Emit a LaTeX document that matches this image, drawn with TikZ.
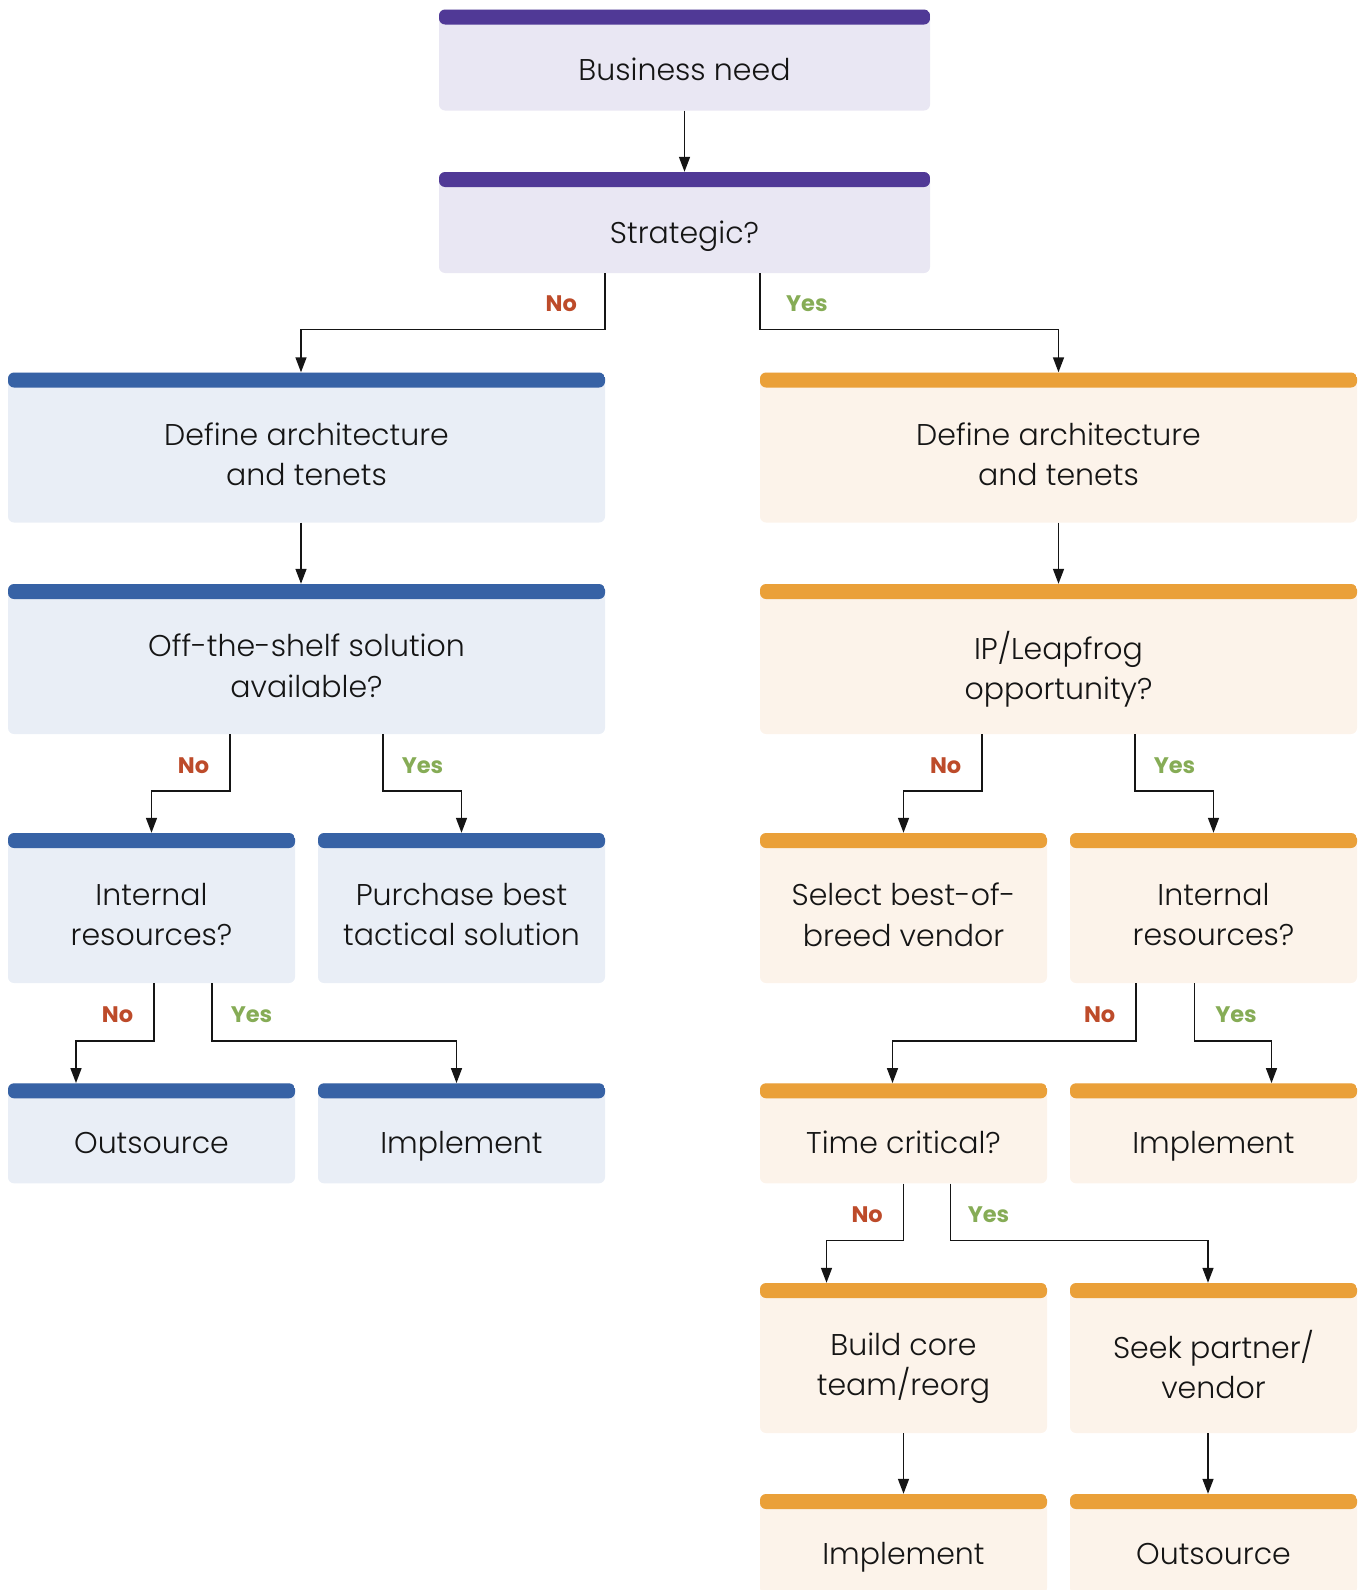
\documentclass[tikz,border=0pt]{standalone}
\usepackage{fontspec}
\setmainfont{Poppins}[UprightFont=* Light, BoldFont=* Bold]
\usetikzlibrary{arrows.meta}

\definecolor{purplebar}{HTML}{503996}
\definecolor{purplefill}{HTML}{E9E7F3}
\definecolor{bluebar}{HTML}{3762A5}
\definecolor{bluefill}{HTML}{E9EEF6}
\definecolor{orangebar}{HTML}{EAA039}
\definecolor{orangefill}{HTML}{FCF3EA}
\definecolor{nored}{HTML}{BD4B2A}
\definecolor{yesgreen}{HTML}{86AC56}
\definecolor{ink}{HTML}{151515}

\tikzset{
  card/.style={rectangle, rounded corners=6pt, inner sep=0pt, fill=#1fill,
    path picture={\fill[#1bar] (path picture bounding box.north west)
      rectangle ([yshift=-15pt]path picture bounding box.north east);}},
  cardtext/.style={text=ink, align=center, inner sep=0pt, yshift=-12.5pt,
    font=\fontsize{30}{40.5}\selectfont,
    execute at begin node=\strut, execute at end node=\strut},
  topsize/.style={minimum width=491pt, minimum height=101pt},
  widesize/.style={minimum width=597pt, minimum height=150pt},
  halfsize/.style={minimum width=287pt, minimum height=150pt},
  lowsize/.style={minimum width=287pt, minimum height=100pt},
  flow/.style={draw=ink, line width=1.5pt, -{Triangle[length=15pt,width=11pt]}},
  no/.style={text=nored, inner sep=0pt, font=\bfseries\fontsize{22.5}{27}\selectfont},
  yes/.style={text=yesgreen, inner sep=0pt, font=\bfseries\fontsize{22.5}{27}\selectfont},
}

\begin{document}
\begin{tikzpicture}[x=1pt, y=-1pt]
  \useasboundingbox (0,0) rectangle (1362,1590);
  \clip (0,0) rectangle (1362,1590);

  % top of the tree
  \node[card=purple, topsize, label={[cardtext]center:Business need}] (need) at (684.5,60) {};
  \node[card=purple, topsize, label={[cardtext]center:Strategic?}] (strat) at (684.5,222.5) {};

  % not strategic
  \node[card=blue, widesize, label={[cardtext]center:{Define architecture\\and tenets}}] (dal) at (306.5,447.5) {};
  \node[card=blue, widesize, label={[cardtext]center:{Off-the-shelf solution\\available?}}] (shelf) at (306.5,659) {};
  \node[card=blue, halfsize, label={[cardtext]center:{Internal\\resources?}}] (irl) at (151.5,908) {};
  \node[card=blue, halfsize, label={[cardtext]center:{Purchase best\\tactical solution}}] (buy) at (461.5,908) {};
  \node[card=blue, lowsize, label={[cardtext]center:Outsource}] (outl) at (151.5,1133.3) {};
  \node[card=blue, lowsize, label={[cardtext]center:Implement}] (impl) at (461.5,1133.3) {};

  % strategic
  \node[card=orange, widesize, label={[cardtext]center:{Define architecture\\and tenets}}] (dar) at (1058.5,447.5) {};
  \node[card=orange, widesize, label={[cardtext]center:{IP/Leapfrog\\opportunity?}}] (leap) at (1058.5,659) {};
  \node[card=orange, halfsize, label={[cardtext]center:{Select best-of-\\breed vendor}}] (vendor) at (903.5,908) {};
  \node[card=orange, halfsize, label={[cardtext]center:{Internal\\resources?}}] (irr) at (1213.5,908) {};
  \node[card=orange, lowsize, label={[cardtext]center:{Time critical?}}] (time) at (903.5,1133.3) {};
  \node[card=orange, lowsize, label={[cardtext]center:Implement}] (impr) at (1213.5,1133.3) {};
  \node[card=orange, halfsize, label={[cardtext]center:{Build core\\team/reorg}}] (core) at (903.5,1358) {};
  \node[card=orange, halfsize, label={[cardtext]center:{Seek partner/\\vendor}}] (seek) at (1213.5,1358) {};
  \node[card=orange, lowsize, label={[cardtext]center:Implement}] (impb) at (903.5,1544) {};
  \node[card=orange, lowsize, label={[cardtext]center:Outsource}] (outb) at (1213.5,1544) {};

  \draw[flow] (need) -- (strat);
  \draw[flow] (strat.south -| dal.east) -- ++(0,56.5) node[no, midway, left=27.5pt, yshift=-2.5pt] {No} -| ([xshift=-5.5pt]dal.north);
  \draw[flow] (strat.south -| dar.west) -- ++(0,56.5) node[yes, midway, right=25.5pt, yshift=-2.5pt] {Yes} -| (dar.north);

  % left branch
  \draw[flow] ([xshift=-5.5pt]dal.south) -- ([xshift=-5.5pt]shelf.north);
  \draw[flow] ([xshift=-76.5pt]shelf.south) -- ++(0,57) node[no, midway, left=20pt, yshift=-2.5pt] {No} -| (irl.north);
  \draw[flow] ([xshift=76.5pt]shelf.south) -- ++(0,57) node[yes, midway, right=18pt, yshift=-2.5pt] {Yes} -| (buy.north);
  \draw[flow] ([xshift=2.5pt]irl.south) -- ++(0,58) node[no, midway, left=20pt, yshift=-2.5pt] {No} -| ([xshift=-75.5pt]outl.north);
  \draw[flow] ([xshift=60.5pt]irl.south) -- ++(0,58) node[yes, midway, right=18pt, yshift=-2.5pt] {Yes} -| ([xshift=-5pt]impl.north);

  % right branch
  \draw[flow] (dar) -- (leap);
  \draw[flow] ([xshift=-76.5pt]leap.south) -- ++(0,57) node[no, midway, left=20pt, yshift=-2.5pt] {No} -| (vendor.north);
  \draw[flow] ([xshift=76.5pt]leap.south) -- ++(0,57) node[yes, midway, right=18pt, yshift=-2.5pt] {Yes} -| (irr.north);
  \draw[flow] ([xshift=-77.5pt]irr.south) -- ++(0,58) node[no, midway, left=20pt, yshift=-2.5pt] {No} -| ([xshift=-11pt]time.north);
  \draw[flow] ([xshift=-19pt]irr.south) -- ++(0,58) node[yes, midway, right=20pt, yshift=-2.5pt] {Yes} -| ([xshift=58pt]impr.north);
  \draw[flow] (time.south) -- ++(0,57) node[no, midway, left=20pt, yshift=-2.5pt] {No} -| ([xshift=-77pt]core.north);
  \draw[flow] ([xshift=47pt]time.south) -- ++(0,57) node[yes, midway, right=16.5pt, yshift=-2.5pt] {Yes} -| ([xshift=-5.5pt]seek.north);
  \draw[flow] (core) -- (impb);
  \draw[flow] ([xshift=-5.5pt]seek.south) -- ([xshift=-5.5pt]outb.north);
\end{tikzpicture}
\end{document}
